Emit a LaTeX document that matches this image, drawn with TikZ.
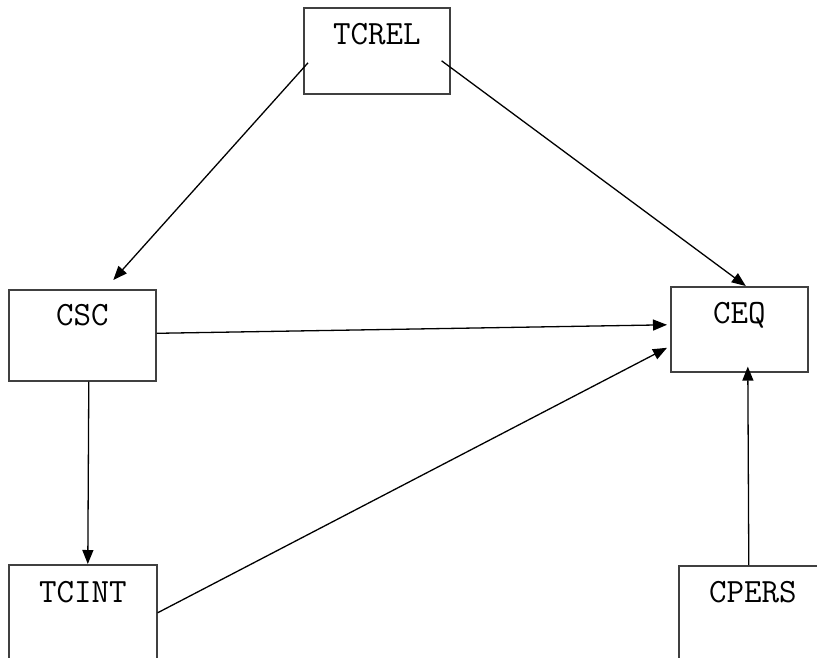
\documentclass[tikz,border=0pt]{standalone}
\usepackage{fontspec}
\usetikzlibrary{arrows.meta}

\begin{document}
\begin{tikzpicture}[x = 1pt, y = -1pt,
	varbox/.style = {draw = black!75, line width = 1.6pt, inner sep = 0pt, anchor = north west, font = \ttfamily\fontsize{34}{34}\selectfont},
	link/.style = {line width = 1.3pt, -{Triangle[length = 14pt, width = 11pt]}}]
	\path[use as bounding box, clip] (0,0) rectangle (817,657);
	
	% boxes
	\node[varbox, minimum width = 146pt, text height = 37pt, text depth = 49pt] (tcrel) at (303,7) {TCREL};
	\node[varbox, minimum width = 147pt, text height = 36pt, text depth = 55pt] (csc) at (8,289) {CSC};
	\node[varbox, minimum width = 137pt, text height = 37pt, text depth = 48pt] (ceq) at (670,286) {CEQ};
	\node[varbox, minimum width = 148pt, text height = 38pt, text depth = 58pt] (tcint) at (8,564) {TCINT};
	\node[varbox, minimum width = 148pt, text height = 37pt, text depth = 60pt] (cpers) at (678,565) {CPERS};
	
	% arrows
	\draw[link] ([xshift = 5pt, yshift = -12pt]tcrel.west) -- ([xshift = 31pt, yshift = 9pt]csc.north);
	\draw[link] ([xshift = -9pt, yshift = -10pt]tcrel.east) -- ([xshift = 6.5pt]ceq.north);
	\draw[link] ([yshift = 2pt]csc.east) -- ([xshift = -3pt, yshift = 4.5pt]ceq.west);
	\draw[link] (tcint.east) -- ([xshift = -3pt, yshift = -18.5pt]ceq.west);
	\draw[link] ([xshift = 6.5pt]csc.south) -- ([xshift = 5pt]tcint.north);
	\draw[link] ([xshift = -4pt]cpers.north) -- ([xshift = 8.5pt, yshift = 6pt]ceq.south);
\end{tikzpicture}
\end{document}
